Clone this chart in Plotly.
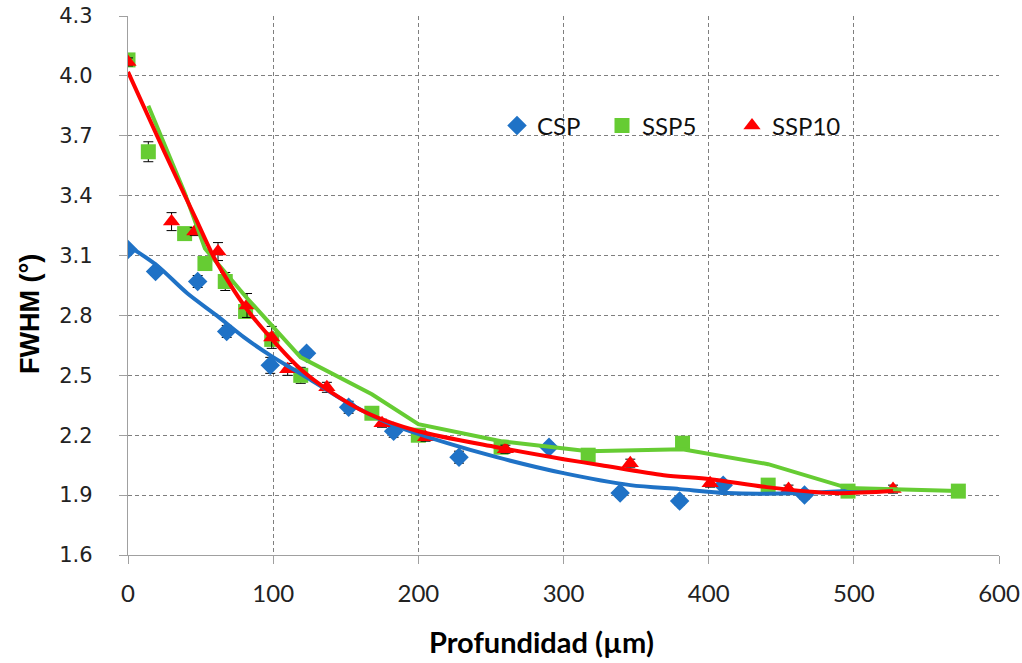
import plotly.graph_objects as go

# Measured FWHM vs depth for the three surface conditions
csp_x = [0, 19, 48, 68, 98, 123, 152, 183, 228, 290, 339, 380, 410, 466]
csp_y = [3.13, 3.02, 2.97, 2.72, 2.55, 2.61, 2.34, 2.22, 2.09, 2.14, 1.91, 1.87, 1.95, 1.90]
csp_err = [0.02, 0.02, 0.03, 0.03, 0.04, 0.02, 0.03, 0.03, 0.03, 0.02, 0.02, 0.02, 0.02, 0.02]

ssp5_x = [0, 14, 39, 53, 67, 81, 99, 119, 168, 200, 257, 317, 382, 441, 496, 572]
ssp5_y = [4.08, 3.62, 3.21, 3.06, 2.97, 2.82, 2.68, 2.50, 2.31, 2.20, 2.14, 2.10, 2.16, 1.95, 1.92, 1.92]
ssp5_err = [0.02, 0.05, 0.02, 0.02, 0.045, 0.03, 0.03, 0.04, 0.03, 0.02, 0.02, 0.02, 0.02, 0.02, 0.02, 0.02]

ssp10_x = [0, 30, 46, 62, 82, 99, 110, 137, 175, 205, 260, 346, 401, 455, 527]
ssp10_y = [4.07, 3.27, 3.22, 3.12, 2.85, 2.69, 2.53, 2.44, 2.26, 2.19, 2.13, 2.06, 1.96, 1.93, 1.93]
ssp10_err = [0.02, 0.045, 0.02, 0.045, 0.06, 0.055, 0.03, 0.025, 0.02, 0.02, 0.02, 0.02, 0.02, 0.02, 0.02]

# Trend lines
csp_fit_x = [0, 20, 41, 61, 80, 98, 123, 152, 183, 220, 254, 300, 346, 380, 413, 463, 519]
csp_fit_y = [3.15, 3.05, 2.91, 2.80, 2.69, 2.60, 2.49, 2.36, 2.25, 2.16, 2.09, 2.01, 1.95, 1.93, 1.91, 1.91, 1.93]

ssp5_avg_x = [14, 39, 53, 67, 81, 99, 119, 168, 200, 257, 317, 382, 441, 496, 572]
ssp5_avg_y = [3.85, 3.415, 3.135, 3.015, 2.895, 2.75, 2.59, 2.405, 2.255, 2.17, 2.12, 2.13, 2.055, 1.935, 1.92]

ssp10_fit_x = [0, 25, 47, 60, 82, 103, 119, 137, 165, 200, 254, 300, 326, 369, 401, 440, 486, 527]
ssp10_fit_y = [4.02, 3.62, 3.28, 3.08, 2.83, 2.65, 2.53, 2.43, 2.31, 2.22, 2.14, 2.08, 2.05, 2.00, 1.98, 1.94, 1.91, 1.92]

y_ticks = [1.6, 1.9, 2.2, 2.5, 2.8, 3.1, 3.4, 3.7, 4.0, 4.3]
x_ticks = [0, 100, 200, 300, 400, 500, 600]

BLUE = "#1f72c6"
GREEN = "#66cc33"
RED = "#ff0000"
GRID = "#7f7f7f"
AXIS = "#a0a0a0"

fig = go.Figure()


def err(values):
    return dict(type="data", array=values, visible=True, color="black",
                thickness=1, width=5)


fig.add_trace(go.Scatter(x=csp_x, y=csp_y, mode="markers", name="CSP",
                         marker=dict(symbol="diamond", size=15, color=BLUE),
                         error_y=err(csp_err), legend="legend"))
fig.add_trace(go.Scatter(x=ssp5_x, y=ssp5_y, mode="markers", name="SSP5",
                         marker=dict(symbol="square", size=15, color=GREEN),
                         error_y=err(ssp5_err), legend="legend2"))
fig.add_trace(go.Scatter(x=ssp10_x, y=ssp10_y, mode="markers", name="SSP10",
                         marker=dict(symbol="triangle-up", size=15, color=RED),
                         error_y=err(ssp10_err), legend="legend3"))

fig.add_trace(go.Scatter(x=csp_fit_x, y=csp_fit_y, mode="lines", showlegend=False,
                         line=dict(color=BLUE, width=4, shape="spline", smoothing=0.8),
                         hoverinfo="skip"))
fig.add_trace(go.Scatter(x=ssp5_avg_x, y=ssp5_avg_y, mode="lines", showlegend=False,
                         line=dict(color=GREEN, width=4), hoverinfo="skip"))
fig.add_trace(go.Scatter(x=ssp10_fit_x, y=ssp10_fit_y, mode="lines", showlegend=False,
                         line=dict(color=RED, width=4, shape="spline", smoothing=0.8),
                         hoverinfo="skip"))

L, R, T, B = 128, 23, 16, 108
W, H = 1022, 663
pw, ph = W - L - R, H - T - B


def px_x(p):
    return (p - L) / pw


def px_y(p):
    return 1 - (p - T) / ph


legend_font = dict(family="Lato, Carlito, Arial", size=24, color="#111111")
legend_common = dict(orientation="h", yanchor="middle", xanchor="left",
                     bgcolor="rgba(0,0,0,0)", font=legend_font, borderwidth=0)

fig.update_layout(
    width=W, height=H,
    margin=dict(l=L, r=R, t=T, b=B, autoexpand=False),
    paper_bgcolor="white", plot_bgcolor="white",
    legend=dict(x=px_x(497), y=px_y(126), **legend_common),
    legend2=dict(x=px_x(602), y=px_y(126), **legend_common),
    legend3=dict(x=px_x(732), y=px_y(126), **legend_common),
    xaxis=dict(range=[0, 600], tickvals=x_ticks, ticktext=[str(v) for v in x_ticks],
               automargin=False,
               showgrid=True, gridcolor=GRID, griddash="4px,3px", gridwidth=1,
               showline=True, linecolor=AXIS, linewidth=1.3,
               ticks="outside", ticklen=8, tickcolor=AXIS,
               ticklabelstandoff=9,
               tickfont=dict(family="Lato, Carlito, Arial", size=24, color="#222222"),
               zeroline=False),
    yaxis=dict(range=[1.6, 4.3], tickvals=y_ticks, ticktext=[f"{v:.1f}" for v in y_ticks],
               automargin=False,
               showgrid=True, gridcolor=GRID, griddash="4px,3px", gridwidth=1,
               showline=True, linecolor=AXIS, linewidth=1.3,
               ticks="outside", ticklen=8, tickcolor=AXIS,
               ticklabelstandoff=22,
               tickfont=dict(family="DejaVu Sans, Verdana", size=21, color="#222222"),
               zeroline=False),
    annotations=[
        dict(text="<b>Profundidad (µm)</b>", xref="paper", yref="paper",
             x=px_x(541), y=px_y(641), xanchor="center", yanchor="middle",
             showarrow=False, font=dict(family="Lato, Carlito, Arial", size=29, color="black")),
        dict(text="<b>FWHM (°)</b>", xref="paper", yref="paper",
             x=px_x(30), y=px_y(314), xanchor="center", yanchor="middle",
             textangle=-90, showarrow=False,
             font=dict(family="Liberation Sans, Arial", size=27, color="black")),
    ],
)

fig.write_html("out.html")
